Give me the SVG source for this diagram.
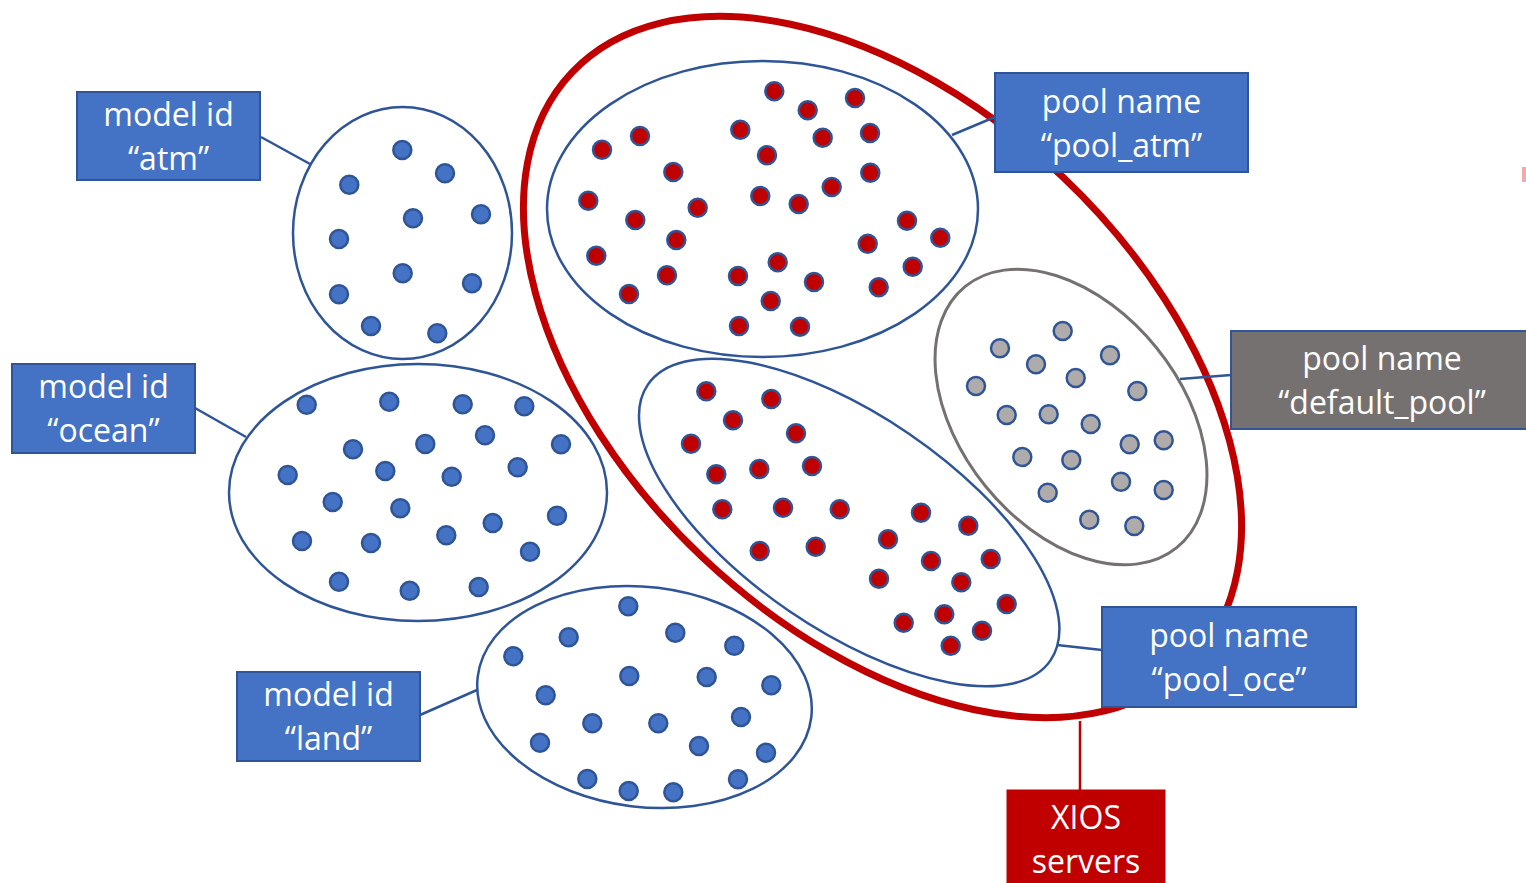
<svg xmlns="http://www.w3.org/2000/svg" width="1526" height="883" viewBox="0 0 1526 883">
<style>
.bg{fill:#FFFFFF}
.grp{fill:none;stroke:#2F5597;stroke-width:2.5}
.grpg{fill:none;stroke:#767171;stroke-width:3}
.xios{fill:none;stroke:#C00000;stroke-width:7}
.b{fill:#4472C4;stroke:#2F5597;stroke-width:2.5}
.r{fill:#C00000;stroke:#2F5597;stroke-width:2.5}
.g{fill:#AFABAB;stroke:#2F5597;stroke-width:2.5}
.con{stroke:#2F5597;stroke-width:2.5;fill:none}
.conr{stroke:#C00000;stroke-width:2.5;fill:none}
.lb{fill:#4472C4;stroke:#2F5597;stroke-width:2}
.lg{fill:#767171;stroke:#2F5597;stroke-width:2}
.lr{fill:#C00000;stroke:#C00000;stroke-width:1}
.t{font-family:"Open Sans","Liberation Sans",sans-serif;font-size:32px;fill:#FFFFFF;text-anchor:middle}
</style>
<defs>
<circle id="d" r="9"/>
</defs>
<rect class="bg" x="0" y="0" width="1526" height="883"/>
<rect x="1522" y="167" width="4" height="15" fill="#F7A8A8"/>

<g id="xios-servers-ring">
<ellipse class="xios" cx="882.5" cy="367" rx="428" ry="262" transform="rotate(43.5 882.5 367)"/>
</g>

<g id="connectors">
<line class="con" x1="261" y1="137" x2="310" y2="164"/>
<line class="con" x1="195" y1="408" x2="246" y2="437"/>
<line class="con" x1="420" y1="715" x2="477" y2="690"/>
<line class="con" x1="952" y1="135" x2="995" y2="117"/>
<line class="con" x1="1180" y1="379" x2="1231" y2="375"/>
<line class="con" x1="1057" y1="645" x2="1102" y2="650"/>
<line class="conr" x1="1080" y1="721" x2="1080" y2="790"/>
</g>

<g id="atm">
<ellipse class="grp" cx="402.5" cy="233" rx="109.5" ry="126"/>
<g class="b">
<use href="#d" x="402.3" y="150"/><use href="#d" x="445" y="173.3"/><use href="#d" x="349.3" y="184.7"/>
<use href="#d" x="413" y="218.3"/><use href="#d" x="481" y="214.3"/><use href="#d" x="339" y="239"/>
<use href="#d" x="402.7" y="273.3"/><use href="#d" x="472" y="283.3"/><use href="#d" x="339" y="294.3"/>
<use href="#d" x="371" y="326"/><use href="#d" x="437.3" y="333.3"/>
</g>
</g>

<g id="ocean">
<ellipse class="grp" cx="418" cy="492.5" rx="189" ry="128.5"/>
<g class="b">
<use href="#d" x="306.7" y="404.7"/><use href="#d" x="389.3" y="401.7"/><use href="#d" x="462.7" y="404.3"/>
<use href="#d" x="524.3" y="406.3"/><use href="#d" x="353" y="449.3"/><use href="#d" x="425.3" y="444"/>
<use href="#d" x="485" y="435.3"/><use href="#d" x="561" y="444.3"/><use href="#d" x="287.7" y="475"/>
<use href="#d" x="385.3" y="471"/><use href="#d" x="451.7" y="476.7"/><use href="#d" x="517.7" y="467.3"/>
<use href="#d" x="332.7" y="502"/><use href="#d" x="400.3" y="508.3"/><use href="#d" x="557" y="515.7"/>
<use href="#d" x="492.7" y="523"/><use href="#d" x="446.3" y="535.3"/><use href="#d" x="302" y="541"/>
<use href="#d" x="371" y="543"/><use href="#d" x="530" y="551.7"/><use href="#d" x="339" y="581.7"/>
<use href="#d" x="409.7" y="590.7"/><use href="#d" x="478.7" y="587"/>
</g>
</g>

<g id="land">
<ellipse class="grp" cx="644.5" cy="697" rx="168" ry="110" transform="rotate(7 644.5 697)"/>
<g class="b">
<use href="#d" x="628.3" y="606.3"/><use href="#d" x="568.7" y="637.3"/><use href="#d" x="675.3" y="632.7"/>
<use href="#d" x="734.3" y="645.7"/><use href="#d" x="513.3" y="656.3"/><use href="#d" x="629.3" y="676"/>
<use href="#d" x="706.7" y="677"/><use href="#d" x="771.3" y="685.3"/><use href="#d" x="545.7" y="695.3"/>
<use href="#d" x="592.3" y="723.3"/><use href="#d" x="658.3" y="723.3"/><use href="#d" x="741" y="717"/>
<use href="#d" x="540" y="742.7"/><use href="#d" x="699" y="746"/><use href="#d" x="766" y="752.7"/>
<use href="#d" x="587.3" y="779"/><use href="#d" x="628.7" y="791"/><use href="#d" x="673.3" y="792.3"/>
<use href="#d" x="738" y="779.3"/>
</g>
</g>

<g id="pool_atm">
<ellipse class="grp" cx="762.5" cy="209" rx="215.5" ry="148"/>
<g class="r">
<use href="#d" x="774.3" y="91.3"/><use href="#d" x="807.7" y="110.3"/><use href="#d" x="855" y="98"/>
<use href="#d" x="602" y="149.7"/><use href="#d" x="640" y="136"/><use href="#d" x="740.3" y="129.7"/>
<use href="#d" x="822.7" y="137.7"/><use href="#d" x="870" y="133"/><use href="#d" x="767" y="155.3"/>
<use href="#d" x="673.3" y="172"/><use href="#d" x="870.3" y="172.7"/><use href="#d" x="831.7" y="187"/>
<use href="#d" x="588.3" y="200.7"/><use href="#d" x="697.7" y="207.7"/><use href="#d" x="760.3" y="196"/>
<use href="#d" x="798.7" y="204"/><use href="#d" x="635.3" y="220"/><use href="#d" x="907" y="220.7"/>
<use href="#d" x="940.3" y="237.7"/><use href="#d" x="676.3" y="240"/><use href="#d" x="867.7" y="243.7"/>
<use href="#d" x="596.3" y="255.7"/><use href="#d" x="777.7" y="262.3"/><use href="#d" x="912.7" y="266.7"/>
<use href="#d" x="667" y="275.3"/><use href="#d" x="738" y="276"/><use href="#d" x="814" y="282"/>
<use href="#d" x="878.7" y="287.3"/><use href="#d" x="629" y="294"/><use href="#d" x="770.7" y="301"/>
<use href="#d" x="739" y="326"/><use href="#d" x="800" y="326.7"/>
</g>
</g>

<g id="pool_oce">
<ellipse class="grp" cx="849.2" cy="522.5" rx="244" ry="107" transform="rotate(34.4 849.2 522.5)"/>
<g class="r">
<use href="#d" x="706.3" y="391.3"/><use href="#d" x="771.3" y="399"/><use href="#d" x="733" y="420.3"/>
<use href="#d" x="796" y="433.3"/><use href="#d" x="691" y="443.7"/><use href="#d" x="716.3" y="474.3"/>
<use href="#d" x="759.3" y="469"/><use href="#d" x="812" y="466"/><use href="#d" x="722.3" y="509.3"/>
<use href="#d" x="783" y="507.7"/><use href="#d" x="839.7" y="509.3"/><use href="#d" x="921" y="512.7"/>
<use href="#d" x="968.3" y="525.7"/><use href="#d" x="888" y="539.3"/><use href="#d" x="931" y="561"/>
<use href="#d" x="990.7" y="559"/><use href="#d" x="759.7" y="551"/><use href="#d" x="815.7" y="546.7"/>
<use href="#d" x="879" y="578.7"/><use href="#d" x="961.3" y="582.3"/><use href="#d" x="1006.7" y="604"/>
<use href="#d" x="944.3" y="614.3"/><use href="#d" x="903.7" y="622.7"/><use href="#d" x="982" y="630.7"/>
<use href="#d" x="950.7" y="645.7"/>
</g>
</g>

<g id="default_pool">
<ellipse class="grpg" cx="1071" cy="417" rx="168" ry="110" transform="rotate(51 1071 417)"/>
<g class="g">
<use href="#d" x="1062.7" y="331"/><use href="#d" x="1000" y="348.3"/><use href="#d" x="1036" y="364.3"/>
<use href="#d" x="1110" y="355.3"/><use href="#d" x="1075.7" y="378"/><use href="#d" x="976" y="386"/>
<use href="#d" x="1137.3" y="391"/><use href="#d" x="1006.7" y="415"/><use href="#d" x="1048.7" y="414.3"/>
<use href="#d" x="1090.7" y="424"/><use href="#d" x="1129.7" y="444.3"/><use href="#d" x="1163.7" y="440.3"/>
<use href="#d" x="1022.3" y="457"/><use href="#d" x="1071.3" y="460"/><use href="#d" x="1121" y="481.7"/>
<use href="#d" x="1163.7" y="490"/><use href="#d" x="1047.7" y="492.7"/><use href="#d" x="1089.3" y="519.7"/>
<use href="#d" x="1134.3" y="526"/>
</g>
</g>

<g id="label-atm">
<rect class="lb" x="77" y="92" width="183" height="88"/>
<text class="t" x="168.5" y="126">model id</text>
<text class="t" x="168.5" y="170">“atm”</text>
</g>
<g id="label-ocean">
<rect class="lb" x="12" y="364" width="183" height="89"/>
<text class="t" x="103.5" y="398">model id</text>
<text class="t" x="103.5" y="442">“ocean”</text>
</g>
<g id="label-land">
<rect class="lb" x="237" y="672" width="183" height="89"/>
<text class="t" x="328.5" y="706">model id</text>
<text class="t" x="328.5" y="750">“land”</text>
</g>
<g id="label-pool_atm">
<rect class="lb" x="995" y="73" width="253" height="99"/>
<text class="t" x="1121.5" y="113">pool name</text>
<text class="t" x="1121.5" y="157">“pool_atm”</text>
</g>
<g id="label-default_pool">
<rect class="lg" x="1231" y="331" width="302" height="98"/>
<text class="t" x="1382" y="370">pool name</text>
<text class="t" x="1382" y="414">“default_pool”</text>
</g>
<g id="label-pool_oce">
<rect class="lb" x="1102" y="607" width="254" height="100"/>
<text class="t" x="1229" y="647">pool name</text>
<text class="t" x="1229" y="691">“pool_oce”</text>
</g>
<g id="label-xios">
<rect class="lr" x="1007" y="790" width="158" height="110"/>
<text class="t" x="1086" y="829">XIOS</text>
<text class="t" x="1086" y="873">servers</text>
</g>
</svg>
